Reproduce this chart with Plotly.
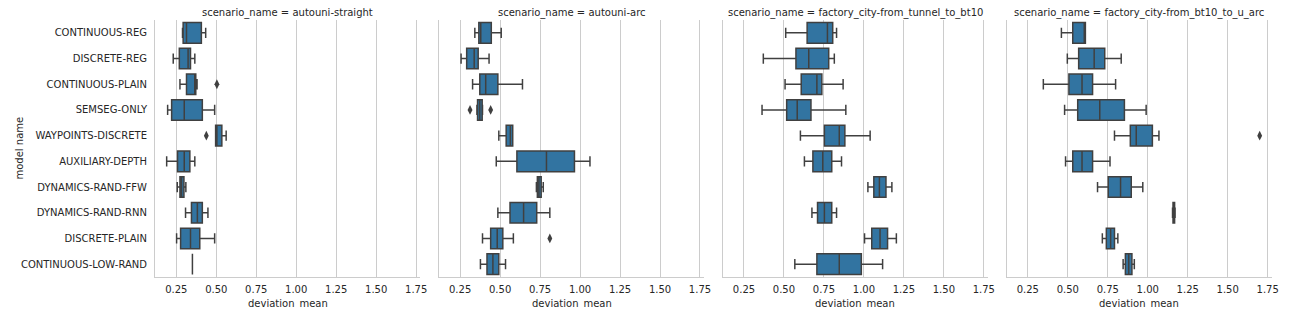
import plotly.graph_objects as go

categories = ["CONTINUOUS-REG", "DISCRETE-REG", "CONTINUOUS-PLAIN", "SEMSEG-ONLY",
              "WAYPOINTS-DISCRETE", "AUXILIARY-DEPTH", "DYNAMICS-RAND-FFW",
              "DYNAMICS-RAND-RNN", "DISCRETE-PLAIN", "CONTINUOUS-LOW-RAND"]

scenarios = ["autouni-straight", "autouni-arc",
             "factory_city-from_tunnel_to_bt10", "factory_city-from_bt10_to_u_arc"]

# per scenario: lowerfence, q1, median, q3, upperfence (in category order)
straight_lf = [0.289, 0.231, 0.273, 0.196, 0.496, 0.190, 0.256, 0.308, 0.252, 0.351]
straight_q1 = [0.293, 0.269, 0.314, 0.221, 0.496, 0.258, 0.273, 0.345, 0.277, 0.351]
straight_md = [0.314, 0.324, 0.366, 0.300, 0.504, 0.300, 0.283, 0.382, 0.339, 0.351]
straight_q3 = [0.407, 0.339, 0.372, 0.413, 0.535, 0.335, 0.298, 0.413, 0.397, 0.351]
straight_uf = [0.434, 0.366, 0.380, 0.490, 0.562, 0.366, 0.310, 0.448, 0.490, 0.351]
straight_out_cat = ["CONTINUOUS-PLAIN", "WAYPOINTS-DISCRETE"]
straight_out_val = [0.504, 0.438]

arc_lf = [0.342, 0.256, 0.328, 0.355, 0.492, 0.476, 0.727, 0.486, 0.390, 0.377]
arc_q1 = [0.367, 0.291, 0.373, 0.359, 0.538, 0.605, 0.733, 0.562, 0.441, 0.418]
arc_md = [0.379, 0.338, 0.410, 0.373, 0.564, 0.790, 0.743, 0.647, 0.482, 0.455]
arc_q3 = [0.445, 0.363, 0.486, 0.388, 0.579, 0.965, 0.757, 0.729, 0.517, 0.492]
arc_uf = [0.507, 0.431, 0.640, 0.390, 0.579, 1.062, 0.770, 0.811, 0.583, 0.534]
arc_out_cat = ["SEMSEG-ONLY", "SEMSEG-ONLY", "DISCRETE-PLAIN"]
arc_out_val = [0.312, 0.441, 0.811]

tunnel_lf = [0.511, 0.371, 0.507, 0.363, 0.603, 0.628, 1.025, 0.675, 1.004, 0.568]
tunnel_q1 = [0.645, 0.575, 0.608, 0.517, 0.753, 0.681, 1.062, 0.710, 1.049, 0.706]
tunnel_md = [0.772, 0.655, 0.706, 0.583, 0.846, 0.743, 1.097, 0.753, 1.101, 0.846]
tunnel_q3 = [0.805, 0.780, 0.737, 0.669, 0.881, 0.799, 1.138, 0.799, 1.148, 0.984]
tunnel_uf = [0.829, 0.815, 0.870, 0.887, 1.039, 0.860, 1.175, 0.829, 1.203, 1.117]
tunnel_out_cat = []
tunnel_out_val = []

uarc_lf = [0.460, 0.497, 0.347, 0.480, 0.792, 0.486, 0.686, 1.155, 0.716, 0.846]
uarc_q1 = [0.531, 0.568, 0.507, 0.562, 0.891, 0.531, 0.753, 1.158, 0.741, 0.860]
uarc_md = [0.603, 0.665, 0.589, 0.700, 0.928, 0.589, 0.830, 1.162, 0.768, 0.881]
uarc_q3 = [0.610, 0.731, 0.655, 0.854, 1.029, 0.655, 0.897, 1.168, 0.792, 0.901]
uarc_uf = [0.610, 0.834, 0.799, 0.990, 1.070, 0.764, 0.969, 1.171, 0.813, 0.916]
uarc_out_cat = ["WAYPOINTS-DISCRETE"]
uarc_out_val = [1.700]

tick_vals = [0.25, 0.50, 0.75, 1.00, 1.25, 1.50, 1.75]
tick_text = ["0.25", "0.50", "0.75", "1.00", "1.25", "1.50", "1.75"]

panels = [
    (straight_lf, straight_q1, straight_md, straight_q3, straight_uf, straight_out_cat, straight_out_val),
    (arc_lf, arc_q1, arc_md, arc_q3, arc_uf, arc_out_cat, arc_out_val),
    (tunnel_lf, tunnel_q1, tunnel_md, tunnel_q3, tunnel_uf, tunnel_out_cat, tunnel_out_val),
    (uarc_lf, uarc_q1, uarc_md, uarc_q3, uarc_uf, uarc_out_cat, uarc_out_val),
]

# page body has an 8px margin, so the figure is drawn 8px right/down
W, H = 1276, 300
ML, MT = 147, 12
panel_px = 267
step_px = 285.5
plot_right = ML + 3 * step_px + panel_px
MR = W - plot_right
plot_bottom = 269
MB = H - plot_bottom
plot_w = W - ML - MR

FILL = "#3274a1"
LINE = "#404040"
TEXT = "#262626"
GRID = "#cccccc"
FONT = "DejaVu Sans"

fig = go.Figure()
layout = dict(
    width=W, height=H,
    margin=dict(l=ML, r=MR, t=MT, b=MB, pad=0),
    plot_bgcolor="white", paper_bgcolor="white",
    showlegend=False,
    font=dict(family=FONT, size=10, color=TEXT),
)
annotations = []

for i, (lf, q1, md, q3, uf, oc, ov) in enumerate(panels):
    sfx = "" if i == 0 else str(i + 1)
    xa, ya = "x" + sfx, "y" + sfx
    fig.add_trace(go.Box(
        y=categories, lowerfence=lf, q1=q1, median=md, q3=q3, upperfence=uf,
        orientation="h", xaxis=xa, yaxis=ya,
        fillcolor=FILL, line=dict(color=LINE, width=1.5),
        width=0.8, whiskerwidth=0.5, boxpoints=False, hoverinfo="skip",
    ))
    if ov:
        fig.add_trace(go.Scatter(
            x=ov, y=oc, mode="markers", xaxis=xa, yaxis=ya,
            marker=dict(symbol="diamond-tall", size=7, color=LINE,
                        line=dict(width=0)),
            hoverinfo="skip",
        ))
    x0 = i * step_px / plot_w
    x1 = min((i * step_px + panel_px) / plot_w, 1.0)
    layout["xaxis" + sfx] = dict(
        domain=[x0, x1], range=[0.117, 1.777],
        tickvals=tick_vals, ticktext=tick_text,
        showgrid=True, gridcolor=GRID, gridwidth=1,
        showline=True, linecolor=GRID, linewidth=1,
        zeroline=False, ticks="outside", ticklen=3, tickcolor="rgba(0,0,0,0)",
        tickfont=dict(family=FONT, size=10, color=TEXT),
        anchor=ya, fixedrange=True,
    )
    layout["yaxis" + sfx] = dict(
        domain=[0, 1], type="category",
        categoryorder="array", categoryarray=categories,
        range=[9.5, -0.5],
        showgrid=False, showline=True, linecolor=GRID, linewidth=1,
        zeroline=False, showticklabels=(i == 0),
        ticks="outside" if i == 0 else "", ticklen=5, tickcolor="rgba(0,0,0,0)",
        tickfont=dict(family=FONT, size=10, color=TEXT),
        anchor=xa, fixedrange=True,
    )
    cx = (x0 + x1) / 2
    annotations.append(dict(
        text="scenario_name = " + scenarios[i], xref="paper", yref="paper",
        x=cx, y=1, xanchor="center", yanchor="bottom", yshift=-1,
        showarrow=False, font=dict(family=FONT, size=10, color=TEXT),
    ))
    annotations.append(dict(
        text="deviation_mean", xref="paper", yref="paper",
        x=cx, y=0, xanchor="center", yanchor="middle", yshift=-27,
        showarrow=False, font=dict(family=FONT, size=10, color=TEXT),
    ))

annotations.append(dict(
    text="model name", xref="paper", yref="paper",
    x=0, y=0.5, xanchor="center", yanchor="middle", xshift=-136,
    textangle=-90, showarrow=False, font=dict(family=FONT, size=10, color=TEXT),
))
layout["annotations"] = annotations
fig.update_layout(**layout)
fig.write_html("out.html")
